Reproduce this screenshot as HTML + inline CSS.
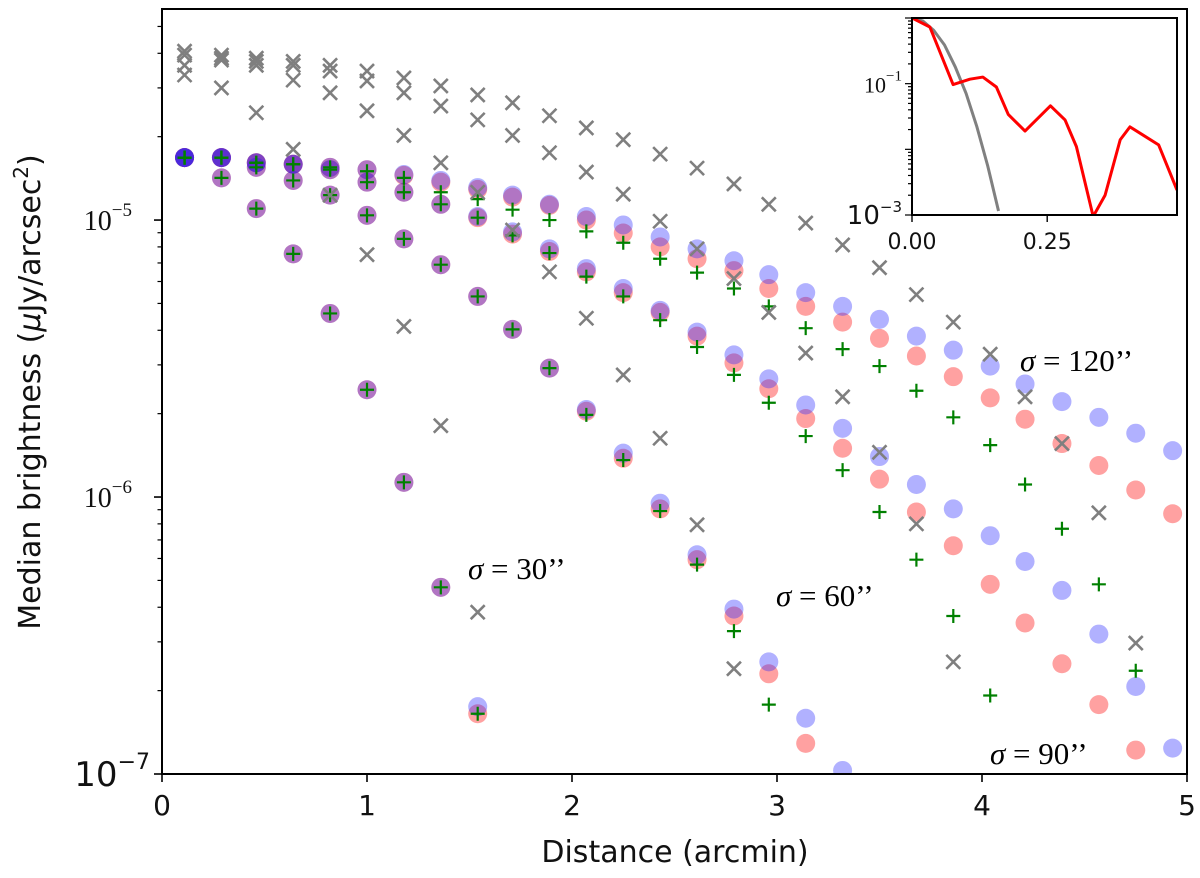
<!DOCTYPE html>
<html><head><meta charset="utf-8">
<style>
html,body{margin:0;padding:0;background:#fff;}
svg{display:block;}
.sans{font-family:"DejaVu Sans","Liberation Sans",sans-serif;}
.serif{font-family:"Liberation Serif","DejaVu Serif",serif;}
</style></head>
<body>
<svg id="chart" width="1200" height="878" viewBox="0 0 1200 878" xmlns="http://www.w3.org/2000/svg">
<rect x="0" y="0" width="1200" height="878" fill="#fff"/>
<g id="marks"></g>
<g id="axes"></g>
<g id="inset"></g>
<text class="serif" x="468" y="579" font-size="31"><tspan font-style="italic">σ</tspan> = 30’’</text>
<text class="serif" x="776" y="606" font-size="31"><tspan font-style="italic">σ</tspan> = 60’’</text>
<text class="serif" x="1020" y="371" font-size="31"><tspan font-style="italic">σ</tspan> = 120’’</text>
<text class="serif" x="990" y="764" font-size="31"><tspan font-style="italic">σ</tspan> = 90’’</text>
<text class="sans" x="675" y="862" font-size="30" text-anchor="middle" fill="#111">Distance (arcmin)</text>
<text class="sans" x="0" y="0" font-size="30" text-anchor="middle" fill="#111" transform="translate(40,392) rotate(-90)">Median brightness (<tspan font-style="italic">μ</tspan>Jy/arcsec<tspan font-size="20" dy="-12">2</tspan><tspan dy="12">)</tspan></text>
</svg>
<script>
const distances=[0.11,0.29,0.46,0.64,0.82,1.00,1.18,1.36,1.54,1.71,1.89,2.07,2.25,2.43,2.61,2.79,2.96,3.14,3.32,3.50,3.68,3.86,4.04,4.21,4.39,4.57,4.75,4.93];
const s30Blue=[1.68e-5,1.42e-5,1.10e-5,7.55e-6,4.60e-6,2.44e-6,1.13e-6,4.72e-7,1.75e-7];
const s30Red=[1.68e-5,1.42e-5,1.10e-5,7.55e-6,4.60e-6,2.44e-6,1.13e-6,4.72e-7,1.65e-7];
const s30Green=[1.68e-5,1.42e-5,1.10e-5,7.55e-6,4.60e-6,2.44e-6,1.13e-6,4.72e-7,1.65e-7];
const s30Gray=[3.34e-5,3.0e-5,2.44e-5,1.80e-5,1.23e-5,7.5e-6,4.13e-6,1.81e-6,3.84e-7];
const s60Blue=[1.68e-5,1.68e-5,1.55e-5,1.39e-5,1.23e-5,1.04e-5,8.55e-6,6.9e-6,5.3e-6,4.03e-6,2.92e-6,2.07e-6,1.44e-6,9.5e-7,6.19e-7,3.94e-7,2.54e-7,1.59e-7,1.03e-7];
const s60Red=[1.68e-5,1.68e-5,1.55e-5,1.39e-5,1.23e-5,1.04e-5,8.55e-6,6.9e-6,5.3e-6,4.03e-6,2.92e-6,2.04e-6,1.38e-6,9.06e-7,5.94e-7,3.72e-7,2.30e-7,1.29e-7];
const s60Green=[1.68e-5,1.68e-5,1.55e-5,1.39e-5,1.23e-5,1.04e-5,8.55e-6,6.9e-6,5.3e-6,4.03e-6,2.92e-6,1.98e-6,1.36e-6,8.9e-7,5.7e-7,3.28e-7,1.78e-7];
const s60Gray=[3.62e-5,3.78e-5,3.62e-5,3.20e-5,2.88e-5,2.48e-5,2.02e-5,1.61e-5,1.26e-5,9.2e-6,6.5e-6,4.42e-6,2.76e-6,1.63e-6,7.94e-7,2.40e-7];
const s90Blue=[1.68e-5,1.68e-5,1.61e-5,1.59e-5,1.52e-5,1.37e-5,1.26e-5,1.14e-5,1.03e-5,9.06e-6,7.87e-6,6.68e-6,5.66e-6,4.72e-6,3.94e-6,3.26e-6,2.67e-6,2.15e-6,1.77e-6,1.40e-6,1.11e-6,9.06e-7,7.25e-7,5.85e-7,4.6e-7,3.2e-7,2.07e-7,1.24e-7];
const s90Red=[1.68e-5,1.68e-5,1.61e-5,1.59e-5,1.52e-5,1.37e-5,1.26e-5,1.14e-5,1.02e-5,8.9e-6,7.7e-6,6.5e-6,5.47e-6,4.64e-6,3.81e-6,3.05e-6,2.46e-6,1.92e-6,1.50e-6,1.16e-6,8.83e-7,6.67e-7,4.84e-7,3.51e-7,2.50e-7,1.78e-7,1.22e-7];
const s90Green=[1.68e-5,1.68e-5,1.61e-5,1.59e-5,1.52e-5,1.37e-5,1.26e-5,1.14e-5,1.02e-5,8.8e-6,7.6e-6,6.25e-6,5.3e-6,4.35e-6,3.48e-6,2.76e-6,2.19e-6,1.66e-6,1.25e-6,8.83e-7,5.94e-7,3.72e-7,1.92e-7];
const s90Gray=[3.94e-5,3.84e-5,3.74e-5,3.62e-5,3.45e-5,3.18e-5,2.88e-5,2.58e-5,2.30e-5,2.02e-5,1.75e-5,1.49e-5,1.24e-5,9.9e-6,7.87e-6,6.15e-6,4.64e-6,3.31e-6,2.30e-6,1.45e-6,8.0e-7,2.54e-7];
const s120Blue=[1.68e-5,1.68e-5,1.61e-5,1.59e-5,1.55e-5,1.52e-5,1.46e-5,1.39e-5,1.31e-5,1.23e-5,1.14e-5,1.03e-5,9.6e-6,8.69e-6,7.87e-6,7.13e-6,6.35e-6,5.47e-6,4.88e-6,4.38e-6,3.81e-6,3.39e-6,2.97e-6,2.56e-6,2.21e-6,1.94e-6,1.70e-6,1.47e-6];
const s120Red=[1.68e-5,1.68e-5,1.61e-5,1.59e-5,1.55e-5,1.52e-5,1.45e-5,1.37e-5,1.29e-5,1.21e-5,1.13e-5,1.0e-5,8.98e-6,8.0e-6,7.25e-6,6.57e-6,5.66e-6,4.88e-6,4.28e-6,3.74e-6,3.23e-6,2.72e-6,2.28e-6,1.91e-6,1.56e-6,1.30e-6,1.06e-6,8.7e-7];
const s120Green=[1.68e-5,1.68e-5,1.61e-5,1.59e-5,1.55e-5,1.50e-5,1.42e-5,1.26e-5,1.19e-5,1.09e-5,1.0e-5,9.1e-6,8.28e-6,7.25e-6,6.46e-6,5.66e-6,4.88e-6,4.07e-6,3.42e-6,2.97e-6,2.42e-6,1.94e-6,1.54e-6,1.11e-6,7.68e-7,4.84e-7,2.36e-7];
const s120Gray=[4.07e-5,3.94e-5,3.84e-5,3.74e-5,3.62e-5,3.45e-5,3.26e-5,3.05e-5,2.83e-5,2.65e-5,2.38e-5,2.15e-5,1.95e-5,1.73e-5,1.54e-5,1.35e-5,1.14e-5,9.75e-6,8.13e-6,6.73e-6,5.38e-6,4.28e-6,3.28e-6,2.30e-6,1.56e-6,8.77e-7,2.97e-7];
const xTicks=[0,1,2,3,4,5];
const yTickLabels=["−5","−6","−7"];
const yTickValues=[1e-5,1e-6,1e-7];
const insetRedX=[0,0.033,0.076,0.107,0.131,0.156,0.178,0.209,0.256,0.283,0.304,0.335,0.357,0.385,0.403,0.456,0.49];
const insetRedY=[1.0,0.73,0.097,0.117,0.126,0.089,0.034,0.019,0.046,0.028,0.011,0.00095,0.002,0.014,0.022,0.0117,0.0024];
const insetGrayX=[0,0.02,0.04,0.06,0.08,0.10,0.12,0.14,0.16];
const insetGrayY=[1.0,0.90,0.65,0.39,0.18,0.071,0.022,0.0056,0.00115];

const NS="http://www.w3.org/2000/svg";
const X0=162,X1=1187,YT=9,YB=774;
const LOGTOP=-4.238,LOGBOT=-7;
function xs(v){return X0+(v-0)/(5-0)*(X1-X0);}
function ys(v){return YT+(LOGTOP-Math.log10(v))/(LOGTOP-LOGBOT)*(YB-YT);}
function mk(tag,attrs,parent){const e=document.createElementNS(NS,tag);for(const k in attrs)e.setAttribute(k,attrs[k]);parent.appendChild(e);return e;}
const marks=document.getElementById('marks');
const clip=mk('clipPath',{id:'plotclip'},marks);
mk('rect',{x:X0,y:YT,width:X1-X0,height:YB-YT},clip);
const mg=mk('g',{'clip-path':'url(#plotclip)'},marks);



function circles(arr,fill,name){
  arr.forEach((v,i)=>{if(v==null)return;
    const c=mk('circle',{cx:xs(distances[i]),cy:ys(v),r:9.5,fill:fill},mg);
    
    
  });
}
function pluses(arr,name){
  arr.forEach((v,i)=>{if(v==null)return;const x=xs(distances[i]),y=ys(v);
    const p=mk('path',{d:`M${x-7},${y}H${x+7}M${x},${y-7}V${y+7}`,stroke:'#008000','stroke-width':2.2,fill:'none'},mg);
    
    
  });
}
function crosses(arr,name){
  arr.forEach((v,i)=>{if(v==null)return;const x=xs(distances[i]),y=ys(v),d=7;
    const p=mk('path',{d:`M${x-d},${y-d}L${x+d},${y+d}M${x-d},${y+d}L${x+d},${y-d}`,stroke:'#7f7f7f','stroke-width':2.6,fill:'none'},mg);
    
    
  });
}
const BLUE='rgba(40,40,255,0.36)',RED='rgba(255,30,30,0.42)';
[[s30Red,'sigma30-red'],[s60Red,'sigma60-red'],[s90Red,'sigma90-red'],[s120Red,'sigma120-red']].forEach(a=>circles(a[0],RED,a[1]));
[[s30Blue,'sigma30-blue'],[s60Blue,'sigma60-blue'],[s90Blue,'sigma90-blue'],[s120Blue,'sigma120-blue']].forEach(a=>circles(a[0],BLUE,a[1]));
[[s30Green,'sigma30-green'],[s60Green,'sigma60-green'],[s90Green,'sigma90-green'],[s120Green,'sigma120-green']].forEach(a=>pluses(a[0],a[1]));
[[s30Gray,'sigma30-gray'],[s60Gray,'sigma60-gray'],[s90Gray,'sigma90-gray'],[s120Gray,'sigma120-gray']].forEach(a=>crosses(a[0],a[1]));

// axes
const ax=document.getElementById('axes');
const frame=mk('rect',{x:X0,y:YT,width:X1-X0,height:YB-YT,fill:'none',stroke:'#000','stroke-width':2},ax);


xTicks.forEach(t=>{const x=xs(t);
  mk('line',{x1:x,x2:x,y1:YB,y2:YB+8,stroke:'#000','stroke-width':1.6},ax);
  const tx=mk('text',{x:x,y:YB+41,'font-size':28,'text-anchor':'middle',class:'sans',fill:'#111'},ax);
  tx.textContent=String(t);
  
  
});
for(let e=-7;e<=-5;e++){
  for(let m=1;m<10;m++){const v=m*Math.pow(10,e);const y=ys(v);if(y<YT||y>YB)continue;
    mk('line',{x1:X0-(m===1?8:4.5),x2:X0,y1:y,y2:y,stroke:'#000','stroke-width':m===1?1.6:1.2},ax);}
}
yTickValues.forEach((v,i)=>{const y=ys(v);
  const big=(i===2);
  const tx=mk('text',{x:big?150:132,y:y+(big?12:10),'font-size':big?34:28,'text-anchor':'end',class:big?'sans':'serif',fill:'#111'},ax);
  tx.textContent='10';
  const sup=mk('tspan',{dy:big?-17:-14,'font-size':big?22:19},tx);
  sup.textContent=yTickLabels[i];
  
  
});

// inset
const ins=document.getElementById('inset');
const IX0=912,IX1=1177,IY0=18,IY1=215,IXMAX=0.49;
function ixs(v){return IX0+v/IXMAX*(IX1-IX0);}
function iys(v){return IY0+(0-Math.log10(v))/3*(IY1-IY0);}
mk('rect',{x:IX0-2,y:IY0-2,width:IX1-IX0+4,height:IY1-IY0+4,fill:'#fff'},ins);
const ic=mk('clipPath',{id:'insclip'},ins);
mk('rect',{x:IX0,y:IY0,width:IX1-IX0,height:IY1-IY0},ic);
const ig=mk('g',{'clip-path':'url(#insclip)'},ins);
const gp=mk('polyline',{points:insetGrayX.map((x,i)=>ixs(x)+','+iys(insetGrayY[i])).join(' '),fill:'none',stroke:'#808080','stroke-width':3},ig);


const rp=mk('polyline',{points:insetRedX.map((x,i)=>ixs(x)+','+iys(insetRedY[i])).join(' '),fill:'none',stroke:'#ff0000','stroke-width':3,'stroke-linejoin':'round'},ig);


const ifr=mk('rect',{x:IX0,y:IY0,width:IX1-IX0,height:IY1-IY0,fill:'none',stroke:'#000','stroke-width':2},ins);


for(let e=-3;e<=0;e++){for(let m=1;m<10;m++){const v=m*Math.pow(10,e);if(v>1)continue;const y=iys(v);
  mk('line',{x1:IX0-(m===1?7:4),x2:IX0,y1:y,y2:y,stroke:'#000','stroke-width':1.2},ins);}}
[[1e-1,'−1'],[1e-3,'−3']].forEach(p=>{const y=iys(p[0]);
  const tx=mk('text',{x:IX0-10,y:y+9,'font-size':p[1]==='−3'?26:22,'text-anchor':'end',class:p[1]==='−3'?'sans':'serif',fill:'#111'},ins);
  tx.textContent='10';const s=mk('tspan',{dy:-12,'font-size':15},tx);s.textContent=p[1];
  
  
});
[0,0.25].forEach(t=>{const x=ixs(t);
  mk('line',{x1:x,x2:x,y1:IY1,y2:IY1+7,stroke:'#000','stroke-width':1.4},ins);
  const tx=mk('text',{x:x,y:IY1+34,'font-size':22,'text-anchor':'middle',class:'sans',fill:'#111'},ins);
  tx.textContent=t.toFixed(2);
  
  
});
</script>
</body></html>
